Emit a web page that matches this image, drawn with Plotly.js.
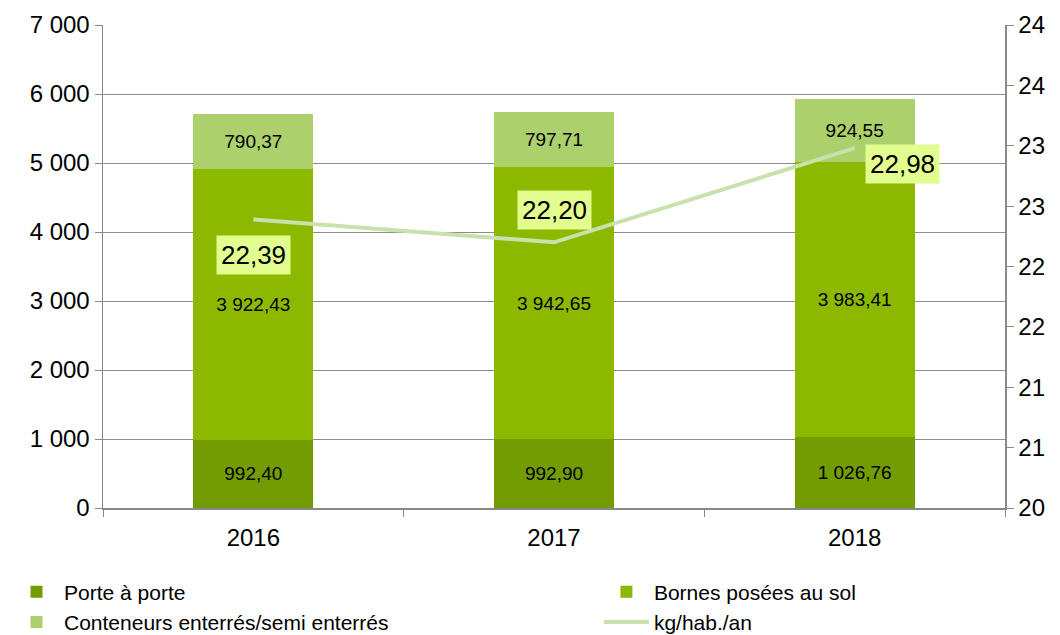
<!DOCTYPE html>
<html>
<head>
<meta charset="utf-8">
<script src="https://cdn.plot.ly/plotly-3.0.1.min.js"></script>
<style>html,body{margin:0;padding:0;background:#fff;}#chart{width:1060px;height:635px;}</style>
</head>
<body>
<div id="chart"></div>
<script>
const years = ["2016", "2017", "2018"];
const porteAPorte = [992.40, 992.90, 1026.76];
const bornesSol = [3922.43, 3942.65, 3983.41];
const conteneurs = [790.37, 797.71, 924.55];
const kgHabAn = [22.39, 22.20, 22.98];
const rightTickVals = [20, 20.5, 21, 21.5, 22, 22.5, 23, 23.5, 24];
const rightTickText = ["20", "21", "21", "22", "22", "23", "23", "24", "24"];

const FONT = "Liberation Sans, Arial, sans-serif";
const barText = {family: FONT, size: 19, color: "#000"};
const TICKFONT = {family: FONT, size: 24, color: "#000"};

function barTrace(name, y, color, legend) {
  return {
    type: "bar", name: name, x: years, y: y,
    marker: {color: color},
    texttemplate: "%{y:,.2f}", textposition: "inside", textangle: 0,
    insidetextanchor: "middle", textfont: barText,
    constraintext: "none", legend: legend, hoverinfo: "skip"
  };
}

const traces = [
  barTrace("Porte à porte", porteAPorte, "#729c02", "legend"),
  barTrace("Bornes posées au sol", bornesSol, "#8cb900", "legend2"),
  barTrace("Conteneurs enterrés/semi enterrés", conteneurs, "#abd06c", "legend"),
  {
    type: "scatter", mode: "lines", name: "kg/hab./an", x: years, y: kgHabAn,
    yaxis: "y2", line: {color: "#c9e1ad", width: 4}, legend: "legend2", hoverinfo: "skip"
  }
];

const shifts = [[0, -36], [0, 32], [48, -16]];
const annotations = kgHabAn.map((v, i) => ({
  x: i, y: v, xref: "x", yref: "y2",
  text: v.toFixed(2).replace(".", ","), showarrow: false,
  xshift: shifts[i][0], yshift: shifts[i][1],
  bgcolor: "#e2fe8e", borderpad: 4,
  font: {family: FONT, size: 26, color: "#000"}
}));

const legendCommon = {
  orientation: "h", xref: "container", yref: "container", y: 0.1,
  xanchor: "left", yanchor: "top", traceorder: "normal",
  font: {family: FONT, size: 21, color: "#000"}, itemwidth: 45,
  entrywidth: 600, tracegroupgap: 0
};

const layout = {
  width: 1060, height: 635,
  margin: {l: 103, r: 55, t: 25, b: 127},
  paper_bgcolor: "#fff", plot_bgcolor: "#fff",
  separators: ", ",
  barmode: "stack", bargap: 0.6,
  font: {family: FONT, size: 22, color: "#000"},
  showlegend: true,
  xaxis: {
    type: "category", range: [-0.5, 2.5], showline: true, linecolor: "#898989", linewidth: 1.5,
    ticks: "outside", tickson: "boundaries", ticklen: 7, tickcolor: "#898989",
    tickfont: TICKFONT, ticklabelstandoff: 8, showgrid: false, zeroline: false
  },
  yaxis: {
    range: [0, 7000], dtick: 1000, tickformat: ",", showline: true,
    linecolor: "#898989", linewidth: 1.5, ticks: "outside", ticklen: 7,
    tickcolor: "#898989", showgrid: true, gridcolor: "#8c8c8c", gridwidth: 1,
    zeroline: false, tickfont: TICKFONT
  },
  yaxis2: {
    overlaying: "y", side: "right", range: [20, 24],
    tickvals: rightTickVals, ticktext: rightTickText,
    showline: true, linecolor: "#898989", linewidth: 1.5, ticks: "outside",
    ticklen: 7, tickcolor: "#898989", showgrid: false, zeroline: false,
    tickfont: TICKFONT
  },
  legend: Object.assign({}, legendCommon, {x: 0.0085}),
  legend2: Object.assign({}, legendCommon, {x: 0.565}),
  annotations: annotations
};
Plotly.newPlot("chart", traces, layout, {displayModeBar: false, staticPlot: true});
</script>
</body>
</html>
